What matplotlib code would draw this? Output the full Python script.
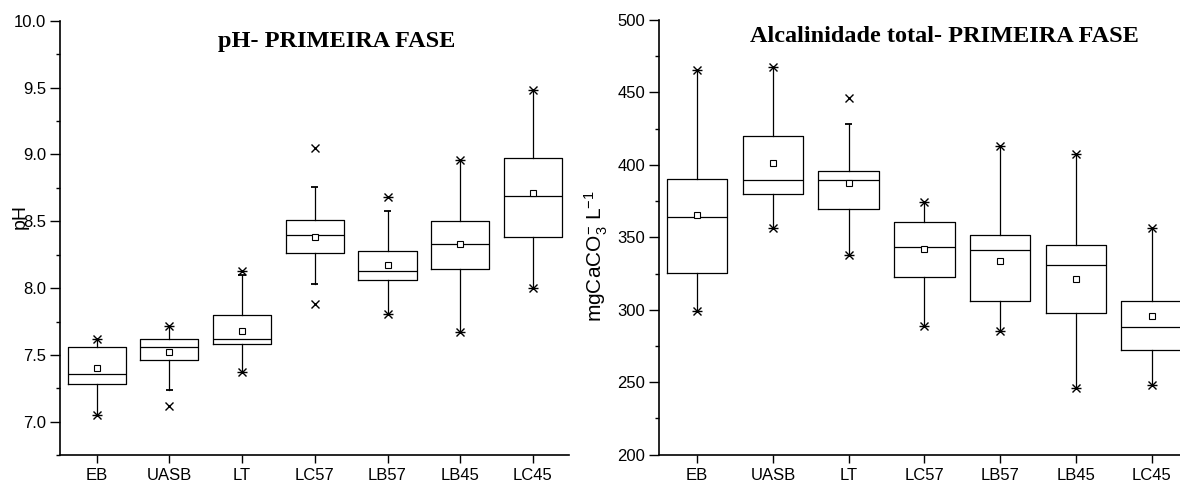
import matplotlib
matplotlib.use('Agg')
import matplotlib.pyplot as plt
from matplotlib.ticker import MultipleLocator

plt.rcParams['font.family'] = ['Liberation Sans', 'DejaVu Sans']
plt.rcParams['mathtext.fontset'] = 'custom'
plt.rcParams['mathtext.rm'] = 'Liberation Sans'
plt.rcParams['mathtext.it'] = 'Liberation Sans'

cats = ['EB', 'UASB', 'LT', 'LC57', 'LB57', 'LB45', 'LC45']

# pH - primeira fase
ph_q1 = [7.28, 7.46, 7.58, 8.26, 8.06, 8.14, 8.38]
ph_med = [7.36, 7.56, 7.62, 8.40, 8.13, 8.33, 8.69]
ph_q3 = [7.56, 7.62, 7.80, 8.51, 8.28, 8.50, 8.97]
ph_mean = [7.40, 7.52, 7.68, 8.38, 8.17, 8.33, 8.71]
ph_wlo = [7.05, 7.24, 7.37, 8.03, 7.81, 7.67, 8.00]
ph_whi = [7.62, 7.72, 8.10, 8.76, 8.58, 8.96, 9.48]
ph_cap_lo = [False, True, False, True, False, False, False]
ph_cap_hi = [False, False, True, True, True, False, False]
ph_xlo = [7.05, 7.12, 7.37, 7.88, 7.81, 7.67, 8.00]
ph_xhi = [7.62, 7.72, 8.13, 9.05, 8.68, 8.96, 9.48]
ph_star_lo = [True, False, True, False, True, True, True]
ph_star_hi = [True, True, True, False, True, True, True]

# Alcalinidade total - primeira fase
alc_q1 = [325.6, 379.9, 369.6, 322.8, 305.9, 298.0, 272.0]
alc_med = [364.0, 389.8, 389.8, 343.1, 341.5, 330.9, 287.9]
alc_q3 = [390.3, 420.0, 396.0, 360.8, 351.8, 344.7, 306.3]
alc_mean = [365.6, 401.3, 387.3, 341.9, 333.7, 321.3, 295.5]
alc_wlo = [299.0, 356.2, 337.8, 289.0, 285.4, 246.0, 248.1]
alc_whi = [465.5, 467.3, 428.4, 374.6, 413.0, 407.7, 356.7]
alc_cap_lo = [False] * 7
alc_cap_hi = [False, False, True, False, False, False, False]
alc_xlo = [299.0, 356.2, 337.8, 289.0, 285.4, 246.0, 248.1]
alc_xhi = [465.5, 467.3, 446.4, 374.6, 413.0, 407.7, 356.7]
alc_star_lo = [True] * 7
alc_star_hi = [True, True, False, True, True, True, True]


def draw_boxes(ax, q1, med, q3, mean, wlo, whi, cap_lo, cap_hi,
               xlo, xhi, star_lo, star_hi):
    pos = list(range(1, len(cats) + 1))
    stats = []
    for i in range(len(cats)):
        stats.append(dict(q1=q1[i], med=med[i], q3=q3[i], mean=mean[i],
                          whislo=wlo[i], whishi=whi[i], fliers=[]))
    lw = 0.9
    ax.bxp(stats, positions=pos, widths=0.8, showmeans=True, showcaps=False,
           showfliers=False,
           boxprops=dict(color='black', linewidth=lw),
           medianprops=dict(color='black', linewidth=lw),
           whiskerprops=dict(color='black', linewidth=lw),
           meanprops=dict(marker='s', markersize=4, markerfacecolor='white',
                          markeredgecolor='black', markeredgewidth=0.8))
    for i, p in enumerate(pos):
        if cap_lo[i]:
            ax.hlines(wlo[i], p - 0.05, p + 0.05, color='black', lw=1.3)
        if cap_hi[i]:
            ax.hlines(whi[i], p - 0.05, p + 0.05, color='black', lw=1.3)
        for v, st in ((xlo[i], star_lo[i]), (xhi[i], star_hi[i])):
            ax.plot(p, v, marker='x', color='black', markersize=5.5, mew=1.0)
            if st:
                ax.plot(p, v, marker='_', color='black', markersize=7.5, mew=1.0)
    ax.set_xticks(pos)
    ax.set_xticklabels(cats)
    ax.set_xlim(0.5, 7.5)
    for s in ('top', 'right'):
        ax.spines[s].set_visible(False)
    for s in ('left', 'bottom'):
        ax.spines[s].set_linewidth(1.2)
    ax.tick_params(axis='x', which='major', direction='out', length=6,
                   width=1.0, labelsize=12)
    ax.tick_params(axis='y', which='major', direction='out', length=7,
                   width=1.0, labelsize=12, pad=3)
    ax.tick_params(axis='y', which='minor', direction='out', length=3, width=1.0)
    ax.tick_params(axis='x', which='minor', bottom=False)


fig = plt.figure(figsize=(11.8, 4.87), dpi=100)

ax1 = fig.add_axes([0.0511, 0.0651, 0.4314, 0.8924])
draw_boxes(ax1, ph_q1, ph_med, ph_q3, ph_mean, ph_wlo, ph_whi, ph_cap_lo,
           ph_cap_hi, ph_xlo, ph_xhi, ph_star_lo, ph_star_hi)
ax1.set_ylim(6.75, 10.0)
ax1.yaxis.set_major_locator(MultipleLocator(0.5))
ax1.yaxis.set_minor_locator(MultipleLocator(0.25))
ax1.yaxis.set_major_formatter(plt.FormatStrFormatter('%.1f'))
ax1.text(0.543, 0.952, 'pH- PRIMEIRA FASE', transform=ax1.transAxes,
         ha='center', va='center', fontsize=17.5, fontweight='bold',
         family='Liberation Serif')
ax1.text(-0.079, 0.55, 'pH', transform=ax1.transAxes, rotation=90,
         ha='center', va='center', fontsize=14)

ax2 = fig.add_axes([0.5587, 0.0663, 0.4494, 0.8926])
draw_boxes(ax2, alc_q1, alc_med, alc_q3, alc_mean, alc_wlo, alc_whi,
           alc_cap_lo, alc_cap_hi, alc_xlo, alc_xhi, alc_star_lo, alc_star_hi)
ax2.set_ylim(200, 500)
ax2.yaxis.set_major_locator(MultipleLocator(50))
ax2.yaxis.set_minor_locator(MultipleLocator(25))
ax2.text(0.537, 0.962, 'Alcalinidade total- PRIMEIRA FASE',
         transform=ax2.transAxes, ha='center', va='center', fontsize=17.5,
         fontweight='bold', family='Liberation Serif')
ax2.text(-0.118, 0.457, r'mgCaCO$_3^{-}$ L$^{-1}$', transform=ax2.transAxes,
         rotation=90, ha='center', va='center', fontsize=15)

fig.savefig('out.png', dpi=100)
